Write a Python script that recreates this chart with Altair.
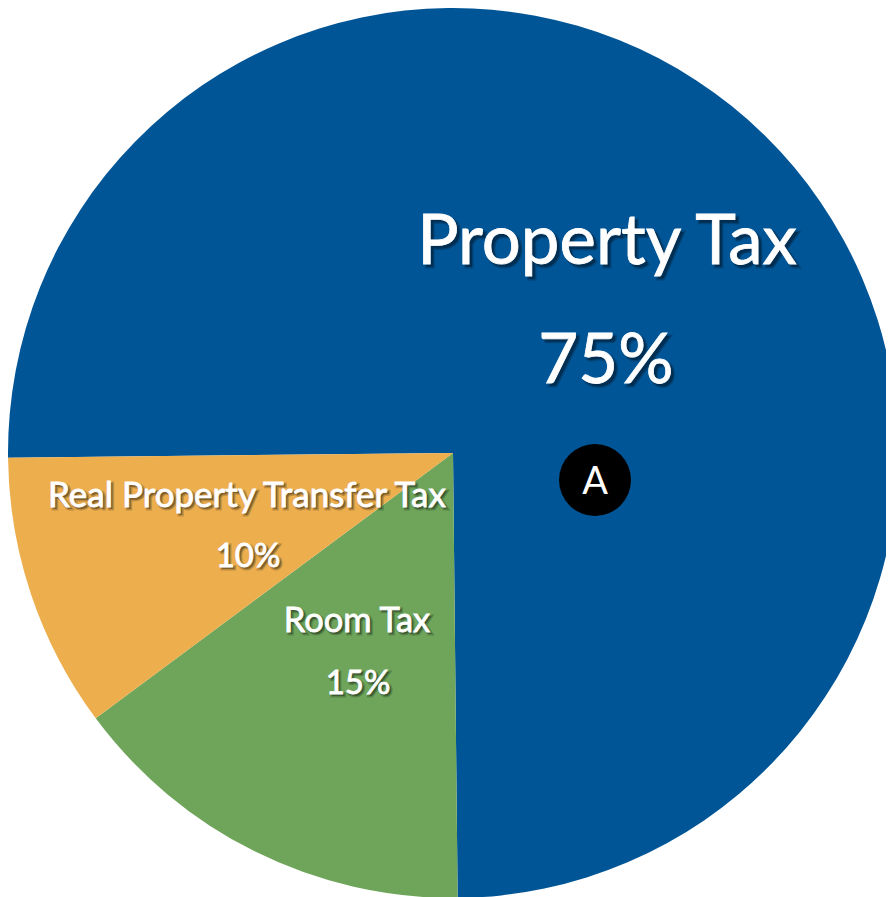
import altair as alt
import pandas as pd
import math

categories = ["Property Tax", "Room Tax", "Real Property Transfer Tax"]
values = [75, 15, 10]
colors = ["#005596", "#6EA55A", "#EDAE4E"]
labels = [
    ("Property Tax", 607, 243, 69),
    ("75%", 606, 362, 69),
    ("Real Property Transfer Tax", 247, 496, 35),
    ("10%", 248, 557, 33),
    ("Room Tax", 357, 622, 34.5),
    ("15%", 358, 684, 33),
]

df = pd.DataFrame({"cat": categories, "val": values, "ord": [0, 1, 2]})
start = math.radians(-90.6)

pie = alt.Chart(df).mark_arc(outerRadius=445).encode(
    theta=alt.Theta("val:Q", stack=True, scale=alt.Scale(range=[start, start + 2 * math.pi])),
    order=alt.Order("ord:Q"),
    color=alt.Color("cat:N", scale=alt.Scale(domain=categories, range=colors), legend=None),
    x=alt.value(445),
    y=alt.value(445),
)

FONT = "Lato"
layers = [pie]
for txt, px, py, size in labels:
    d = pd.DataFrame({"t": [txt]})
    x, y = px - 8, py - 8
    off = 3 if size > 50 else 2
    shadow = alt.Chart(d).mark_text(font=FONT, fontSize=size, color="#000000", opacity=0.45,
                                    stroke="#000000", strokeWidth=3, strokeOpacity=0.45,
                                    align="center", baseline="middle").encode(
        text="t:N", x=alt.value(x + off), y=alt.value(y + off))
    main = alt.Chart(d).mark_text(font=FONT, fontSize=size, color="#ffffff",
                                  stroke="#ffffff", strokeWidth=0.8,
                                  align="center", baseline="middle").encode(
        text="t:N", x=alt.value(x), y=alt.value(y))
    layers += [shadow, main]

badge_df = pd.DataFrame({"t": ["A"]})
badge = alt.Chart(badge_df).mark_point(filled=True, shape="circle", size=5184, color="#000000", opacity=1).encode(
    x=alt.value(595 - 8), y=alt.value(480 - 8))
badge_t = alt.Chart(badge_df).mark_text(font=FONT, fontSize=38, color="#ffffff",
                                        align="center", baseline="middle").encode(
    text="t:N", x=alt.value(595 - 8), y=alt.value(483 - 8))
layers += [badge, badge_t]

chart = alt.layer(*layers).properties(
    width=878, height=889, padding=0, background="#ffffff",
    autosize=alt.AutoSizeParams(type="none"),
).configure_view(stroke=None)

chart.save("out.html", embed_options={"renderer": "svg", "actions": False})
